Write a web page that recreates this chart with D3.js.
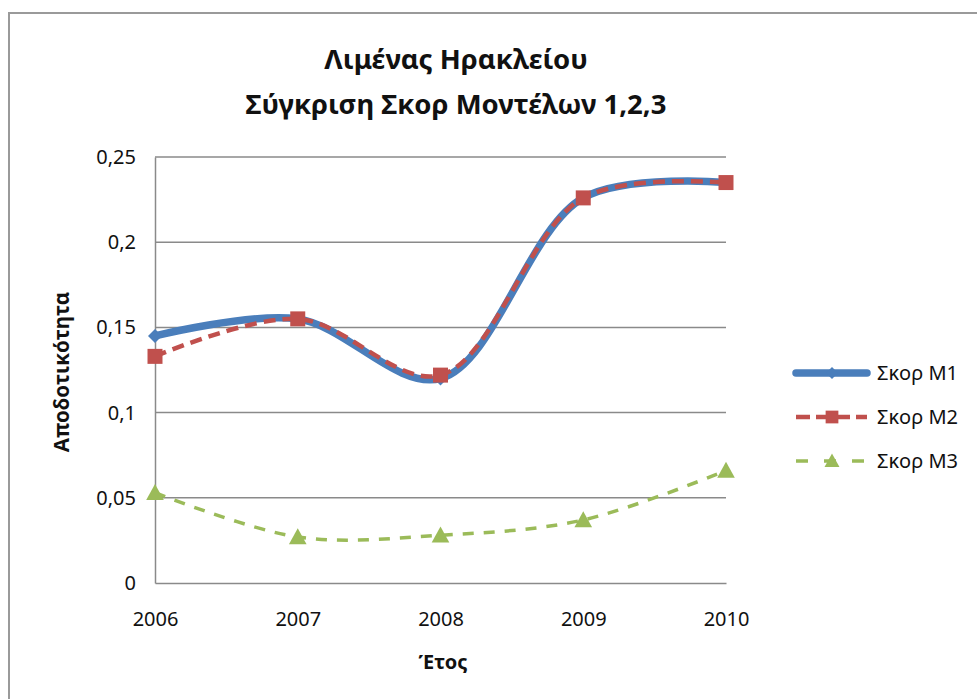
<!DOCTYPE html>
<html>
<head>
<meta charset="utf-8">
<script src="https://cdn.jsdelivr.net/npm/d3@7"></script>
<style>
  html, body { margin: 0; padding: 0; background: #fff; }
  svg { display: block; }
  text { font-family: "Noto Sans", "Open Sans", "DejaVu Sans", sans-serif; fill: #111; }
</style>
</head>
<body>
<script>
const years = ["2006", "2007", "2008", "2009", "2010"];
const m1 = [0.145, 0.155, 0.120, 0.226, 0.235];
const m2 = [0.133, 0.155, 0.122, 0.226, 0.235];
const m3 = [0.053, 0.027, 0.028, 0.037, 0.066];
const yTicks = [0, 0.05, 0.1, 0.15, 0.2, 0.25];
const seriesNames = ["Σκορ M1", "Σκορ M2", "Σκορ M3"];
const titleLines = ["Λιμένας Ηρακλείου", "Σύγκριση Σκορ Μοντέλων 1,2,3"];
const xTitle = "Έτος";
const yTitle = "Αποδοτικότητα";

const W = 977, H = 699;
const svg = d3.select("body").append("svg").attr("width", W).attr("height", H);

// outer chart border
svg.append("rect").attr("x", 9).attr("y", 13).attr("width", 1000).attr("height", 1000)
  .attr("fill", "none").attr("stroke", "#9a9a9a").attr("stroke-width", 2);

const x = d3.scalePoint().domain(years).range([155, 726]);
const y = d3.scaleLinear().domain([0, 0.25]).range([583, 157]);

// gridlines
svg.append("g").selectAll("line").data(yTicks.filter(d => d > 0)).join("line")
  .attr("x1", 155).attr("x2", 726)
  .attr("y1", d => y(d)).attr("y2", d => y(d))
  .attr("stroke", "#8a8a8a").attr("stroke-width", 1.5);

// axes
const yAxis = d3.axisLeft(y).tickValues(yTicks).tickSize(0).tickPadding(19)
  .tickFormat(d => d3.format("")(d).replace(".", ","));
const gy = svg.append("g").attr("transform", "translate(155,0)").call(yAxis);
gy.select(".domain").attr("stroke", "#8a8a8a").attr("stroke-width", 1.5);
gy.selectAll("text").attr("font-size", 20).attr("fill", "#111")
  .style("font-family", '"Noto Sans", sans-serif');

const xAxis = d3.axisBottom(x).tickSize(0).tickPadding(29);
const gx = svg.append("g").attr("transform", "translate(0,583)").call(xAxis);
gx.select(".domain").attr("stroke", "#8a8a8a").attr("stroke-width", 1.5);
gx.selectAll("text").attr("font-size", 20).attr("fill", "#111")
  .style("font-family", '"Noto Sans", sans-serif');

// titles
svg.append("g").selectAll("text").data(titleLines).join("text")
  .attr("x", 456).attr("y", (d, i) => 69 + i * 45)
  .attr("text-anchor", "middle").attr("font-size", 27.5).attr("font-weight", "bold")
  .text(d => d);

svg.append("text").attr("x", 443).attr("y", 669).attr("text-anchor", "middle")
  .attr("font-size", 20).attr("font-weight", "bold").text(xTitle);

svg.append("text").attr("transform", "translate(69,372) rotate(-90)")
  .attr("text-anchor", "middle").attr("font-size", 20.5).attr("font-weight", "bold").text(yTitle);

const line = d3.line().x((d, i) => x(years[i])).y(d => y(d)).curve(d3.curveCatmullRom.alpha(0.5));

const styles = [
  { data: m1, color: "#4a7ebb", width: 7.5, dash: null, marker: "diamond", size: 14 },
  { data: m2, color: "#c0504d", width: 4.5, dash: "12,7", marker: "square", size: 15 },
  { data: m3, color: "#9bbb59", width: 3.5, dash: "11,10", marker: "triangle", size: 16 }
];

function markerPath(type, s) {
  if (type === "diamond") return `M0,${-s/2}L${s/2},0L0,${s/2}L${-s/2},0Z`;
  if (type === "square") return `M${-s/2},${-s/2}H${s/2}V${s/2}H${-s/2}Z`;
  return `M0,${-s*0.55}L${s*0.55},${s*0.45}L${-s*0.55},${s*0.45}Z`;
}

styles.forEach((st, k) => {
  svg.append("path").datum(st.data).attr("d", line)
    .attr("fill", "none").attr("stroke", st.color).attr("stroke-width", st.width)
    .attr("stroke-linecap", st.dash ? "butt" : "round")
    .attr("stroke-dasharray", st.dash);
  svg.append("g").selectAll("path").data(st.data).join("path")
    .attr("transform", (d, i) => `translate(${x(years[i])},${y(d)})`)
    .attr("d", markerPath(st.marker, st.size)).attr("fill", st.color);
});

// legend
const leg = svg.append("g");
styles.forEach((st, k) => {
  const ly = 373 + k * 44;
  leg.append("line").attr("x1", 796).attr("x2", 867).attr("y1", ly).attr("y2", ly)
    .attr("stroke", st.color).attr("stroke-width", st.width)
    .attr("stroke-linecap", st.dash ? "butt" : "round")
    .attr("stroke-dasharray", k === 1 ? "14,6" : (k === 2 ? "12,16" : null));
  leg.append("path").attr("transform", `translate(832,${ly})`)
    .attr("d", markerPath(st.marker, st.size * 0.85)).attr("fill", st.color);
  leg.append("text").attr("x", 877).attr("y", ly + 7).attr("font-size", 20).text(seriesNames[k]);
});
</script>
</body>
</html>
